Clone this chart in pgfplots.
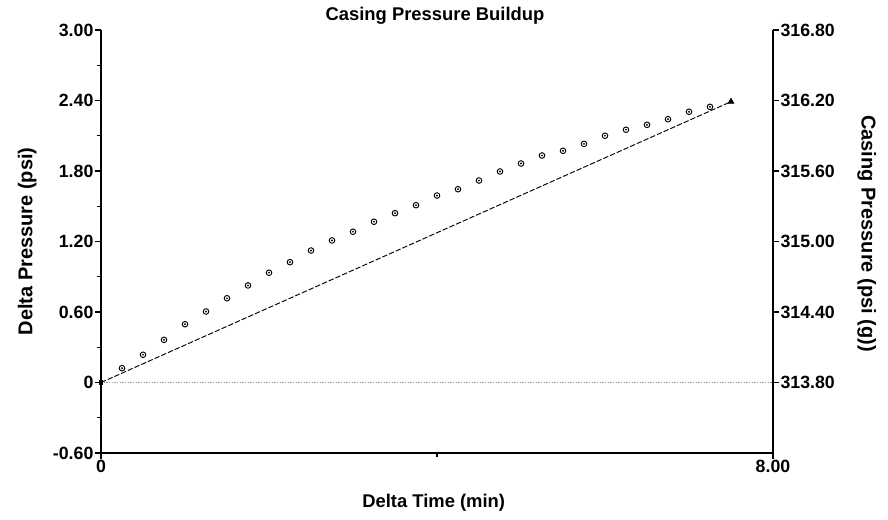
\documentclass[border=0pt]{standalone}
\usepackage{fontspec}
\setmainfont{Liberation Sans}
\usepackage{pgfplots}
\usepackage{pgfplotstable}
\pgfplotsset{compat=1.18}
\usetikzlibrary{calc}

\pgfplotstableread{
x y
0.25 0.122
0.50 0.236
0.75 0.363
1.00 0.496
1.25 0.604
1.50 0.717
1.75 0.826
2.00 0.934
2.25 1.024
2.50 1.123
2.75 1.209
3.00 1.283
3.25 1.368
3.50 1.441
3.75 1.509
4.00 1.591
4.25 1.645
4.50 1.719
4.75 1.796
5.00 1.864
5.25 1.932
5.50 1.972
5.75 2.031
6.00 2.100
6.25 2.151
6.50 2.193
6.75 2.241
7.00 2.304
7.25 2.346
}\circdata

\begin{document}
\begin{tikzpicture}
\useasboundingbox (-75.75pt,-50.25pt) rectangle (590.25pt,339.75pt);
\begin{axis}[name=main,
  at={(0,0)}, anchor=south west, scale only axis,
  width=504pt, height=317.25pt,
  xmin=0, xmax=8, ymin=-0.6, ymax=3,
  axis x line*=bottom, axis y line*=left,
  axis line style={-, line width=1pt},
  tick align=outside, major tick length=4.5pt, minor tick length=3pt,
  tick style={black, line width=0.8pt},
  xtick={0,8}, xticklabels={0,8.00}, minor xtick={4},
  ytick={-0.6,0,0.6,1.2,1.8,2.4,3},
  yticklabels={-0.60,0,0.60,1.20,1.80,2.40,3.00},
  minor ytick={-0.3,0.3,0.9,1.5,2.1,2.7},
  tick label style={font=\fontsize{13.3}{15}\selectfont\bfseries, inner sep=1pt},
  /pgf/number format/assume math mode=true,
  clip=false,
]
\addplot[gray!75, densely dotted, line width=1pt] coordinates {(0,0) (8,0)};
\addplot[black, line width=0.7pt, dash pattern=on 4pt off 1.5pt] coordinates {(0,0) (7.5,2.39)};
\addplot[only marks, mark=o, mark size=2.1pt, mark options={line width=0.7pt, black}] table[x=x,y=y] {\circdata};
\addplot[only marks, mark=*, mark size=0.45pt, mark options={black}] table[x=x,y=y] {\circdata};
\addplot[only marks, mark=triangle*, mark size=2.6pt, mark options={black}] coordinates {(7.5,2.39)};
\addplot[only marks, mark=square*, mark size=1.3pt, mark options={black}] coordinates {(0,0)};
\end{axis}
\begin{axis}[
  at={(0,0)}, anchor=south west, scale only axis,
  width=504pt, height=317.25pt,
  xmin=0, xmax=8, ymin=313.2, ymax=316.8,
  axis x line=none, axis y line*=right,
  axis line style={-, line width=1pt},
  tick align=outside, major tick length=4.5pt,
  tick style={black, line width=0.8pt},
  ytick={313.8,314.4,315.0,315.6,316.2,316.8},
  yticklabels={313.80,314.40,315.00,315.60,316.20,316.80},
  tick label style={font=\fontsize{13.3}{15}\selectfont\bfseries, inner sep=1pt},
  /pgf/number format/assume math mode=true,
]
\addplot[draw=none] coordinates {(0,314) (8,315)};
\end{axis}
\node[anchor=base, font=\fontsize{13.8}{16}\selectfont\bfseries] at ($(main.north)+(-1.5pt,7pt)$) {Casing Pressure Buildup};
\node[anchor=base, font=\fontsize{13.8}{16}\selectfont\bfseries] at ($(main.south)+(-2.5pt,-40.7pt)$) {Delta Time (min)};
\node[anchor=base, rotate=90, font=\fontsize{15}{17}\selectfont\bfseries] at ($(main.west)+(-51.5pt,0)$) {Delta Pressure (psi)};
\node[anchor=base, rotate=-90, font=\fontsize{15}{17}\selectfont\bfseries] at ($(main.east)+(66.4pt,6pt)$) {Casing Pressure (psi (g))};
\end{tikzpicture}
\end{document}
